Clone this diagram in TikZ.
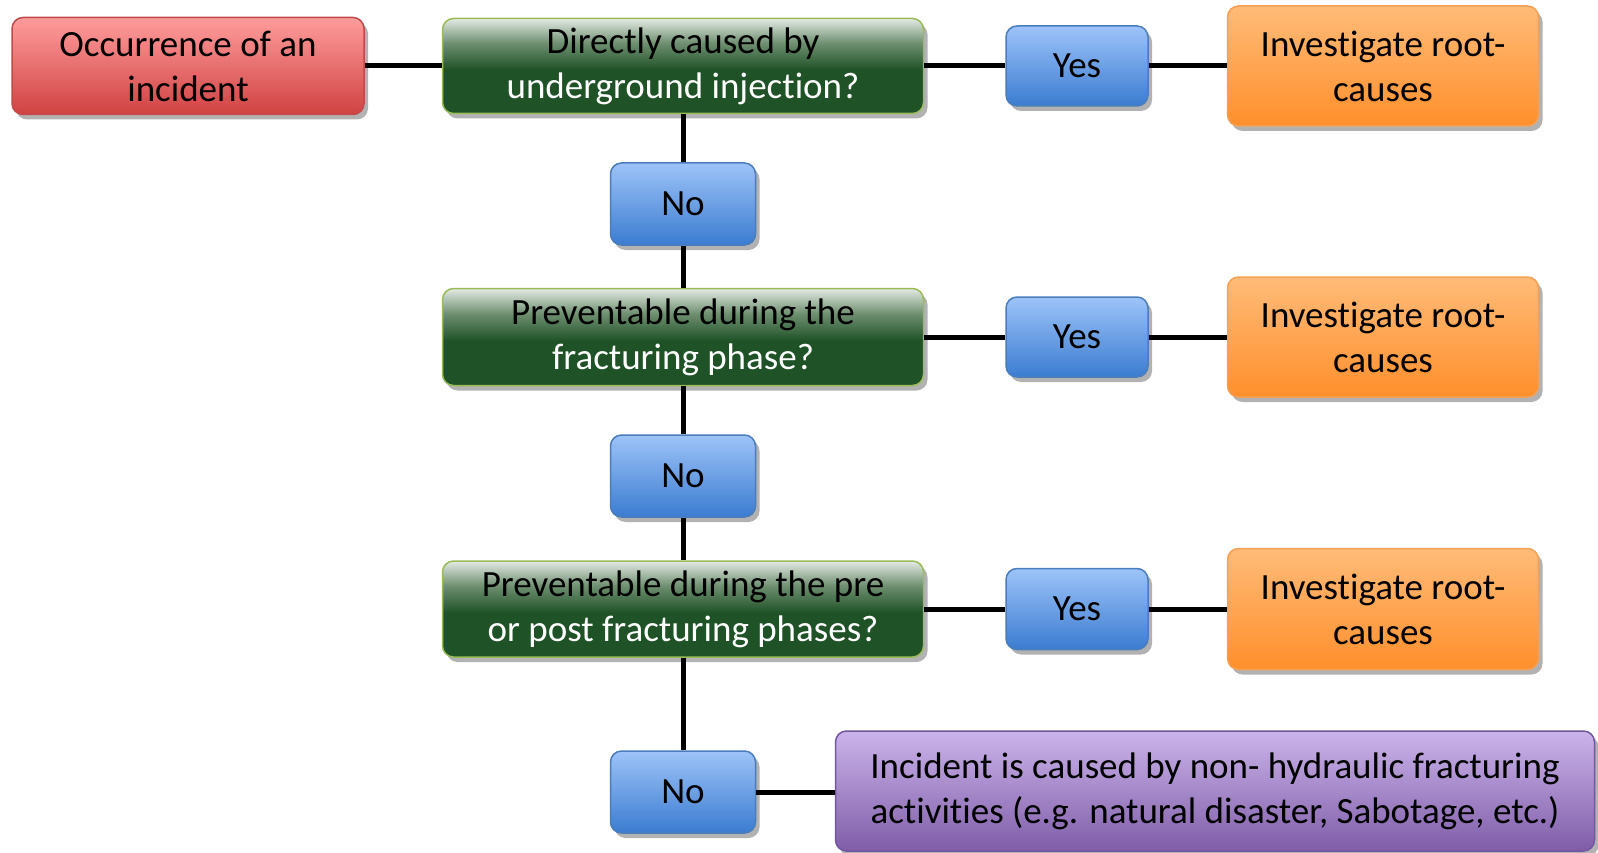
\documentclass[tikz,border=0pt]{standalone}
\usepackage{fontspec}
\setmainfont[Ligatures=NoCommon]{Carlito}
\usetikzlibrary{shadows}
\definecolor{redtop}{HTML}{FF9C9C}
\definecolor{redbot}{HTML}{D04242}
\definecolor{redline}{HTML}{C04A4A}
\definecolor{gtop}{HTML}{E4EAE4}
\definecolor{gmid}{HTML}{6E8F70}
\definecolor{gdark}{HTML}{1F5227}
\definecolor{gline}{HTML}{9BBB59}
\definecolor{btop}{HTML}{9DC3F9}
\definecolor{bbot}{HTML}{3B7CD0}
\definecolor{bline}{HTML}{4A7EBB}
\definecolor{otop}{HTML}{FFBB78}
\definecolor{obot}{HTML}{FF8F2C}
\definecolor{oline}{HTML}{F5A055}
\definecolor{ptop}{HTML}{CBB4EA}
\definecolor{pbot}{HTML}{7F5DA8}
\definecolor{pline}{HTML}{7256A0}
\pgfdeclareverticalshading{greenshade}{100bp}{color(0bp)=(gdark); color(25bp)=(gdark); color(48bp)=(gdark); color(62bp)=(gmid); color(75bp)=(gtop); color(100bp)=(gtop)}
\tikzset{
  box/.style={rounded corners=11pt, line width=1.5pt, align=center, inner sep=0pt,
    font=\fontsize{37}{45}\selectfont,
    drop shadow={shadow xshift=4pt, shadow yshift=-5pt, opacity=0.3, fill=black}},
  redbox/.style={box, draw=redline, top color=redtop, bottom color=redbot},
  greenbox/.style={box, draw=gline, shading=greenshade},
  bluebox/.style={box, draw=bline, top color=btop, bottom color=bbot},
  orangebox/.style={box, draw=oline, top color=otop, bottom color=obot},
  purplebox/.style={box, draw=pline, top color=ptop, bottom color=pbot},
  conn/.style={line width=5pt, black}
}
\begin{document}
\begin{tikzpicture}[x=1pt,y=-1pt]
\useasboundingbox (0,0) rectangle (1598,853);
% row 1
\node[redbox, minimum width=352pt, minimum height=97pt] (occ) at (188,66) {Occurrence of an\\incident};
\node[greenbox, minimum width=481pt, minimum height=95pt] (q1) at (683,66) {{\color{black}Directly caused by}\\{\color{white}underground injection?}};
\node[bluebox, minimum width=142pt, minimum height=80pt] (y1) at (1077,66) {Yes};
\node[orangebox, minimum width=311pt, minimum height=120pt] (r1) at (1383,66) {Investigate root-\\causes};
\node[bluebox, minimum width=145pt, minimum height=82pt] (n1) at (683,204) {No};
% row 2
\node[greenbox, minimum width=481pt, minimum height=97pt] (q2) at (683,337) {{\color{black}Preventable during the}\\{\color{white}fracturing phase?}};
\node[bluebox, minimum width=142pt, minimum height=80pt] (y2) at (1077,337) {Yes};
\node[orangebox, minimum width=311pt, minimum height=120pt] (r2) at (1383,337) {Investigate root-\\causes};
\node[bluebox, minimum width=145pt, minimum height=82pt] (n2) at (683,476) {No};
% row 3
\node[greenbox, minimum width=481pt, minimum height=96pt] (q3) at (683,609) {{\color{black}Preventable during the pre}\\{\color{white}or post fracturing phases?}};
\node[bluebox, minimum width=142pt, minimum height=81pt] (y3) at (1077,609) {Yes};
\node[orangebox, minimum width=311pt, minimum height=121pt] (r3) at (1383,609) {Investigate root-\\causes};
% bottom
\node[bluebox, minimum width=145pt, minimum height=82pt] (n3) at (683,792) {No};
\node[purplebox, minimum width=759pt, minimum height=120pt] (fin) at (1215,791) {Incident is caused by non- hydraulic fracturing\\activities (e.g. natural disaster, Sabotage, etc.)};
% connectors
\draw[conn] (occ.east) -- (q1.west);
\draw[conn] (q1.east) -- (y1.west);
\draw[conn] (y1.east) -- (r1.west);
\draw[conn] (q1.south) -- (n1.north);
\draw[conn] (n1.south) -- (q2.north);
\draw[conn] (q2.east) -- (y2.west);
\draw[conn] (y2.east) -- (r2.west);
\draw[conn] (q2.south) -- (n2.north);
\draw[conn] (n2.south) -- (q3.north);
\draw[conn] (q3.east) -- (y3.west);
\draw[conn] (y3.east) -- (r3.west);
\draw[conn] (q3.south) -- (n3.north);
\draw[conn] (n3.east) -- (fin.west |- n3.east);
\end{tikzpicture}
\end{document}
